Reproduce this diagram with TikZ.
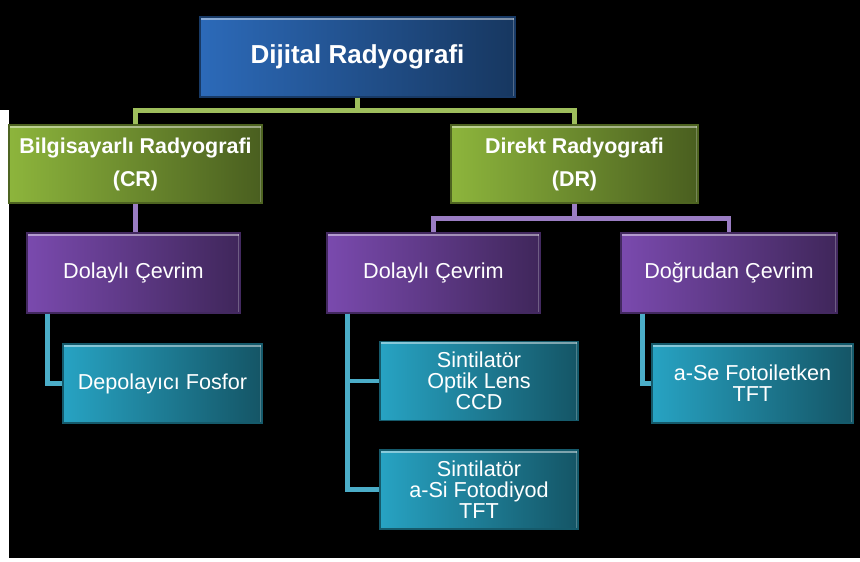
\documentclass[tikz,border=0pt]{standalone}
\usepackage{xcolor}
\usepackage{fontspec}
\setmainfont{Liberation Sans}

\definecolor{topblue}{HTML}{2C6AB9}
\definecolor{crgreen}{HTML}{8DB53C}
\definecolor{cevpurple}{HTML}{7A4AAE}
\definecolor{leafcyan}{HTML}{27A3C3}
\definecolor{greenlink}{HTML}{9EBE5C}
\definecolor{purplelink}{HTML}{9A7DC3}
\definecolor{cyanlink}{HTML}{4BADC8}

\tikzset{
    box/.style={rectangle, align=center, inner sep=2pt, text=white,
        draw=#1!55!black, line width=0.6pt,
        left color=#1, right color=#1!52!black,
        path picture={
            \draw[white, opacity=.45, line width=3pt]
                (path picture bounding box.north west) -- (path picture bounding box.north east);
            \draw[white, opacity=.25, line width=2pt]
                (path picture bounding box.north east) -- (path picture bounding box.south east);
        }},
    rootbox/.style={box=topblue, minimum width=6.3cm, minimum height=1.6cm,
        font=\fontsize{14.8}{18}\selectfont\bfseries},
    typebox/.style={box=crgreen, minimum height=1.56cm,
        font=\fontsize{12.2}{18.8}\selectfont\bfseries},
    convbox/.style={box=cevpurple, minimum height=1.6cm,
        font=\fontsize{12.3}{12}\selectfont},
    leafbox/.style={box=leafcyan, minimum height=1.58cm,
        font=\fontsize{12.3}{11.9}\selectfont},
    link/.style={line width=2.7pt, color=#1}
}

\begin{document}
\begin{tikzpicture}
    \useasboundingbox (0, 0) rectangle (17.2, -11.24);
    \fill[black] (0.18, 0) rectangle (17.2, -11.16);
    \fill[black] (0, 0) rectangle (0.18, -2.2);

    % boxes
    \node[rootbox] (root) at (7.15, -1.14) {Dijital Radyografi};

    \node[typebox, minimum width=5.06cm] (cr) at (2.71, -3.28) {Bilgisayarlı Radyografi\\(CR)};
    \node[typebox, minimum width=4.94cm] (dr) at (11.49, -3.28) {Direkt Radyografi\\(DR)};

    \node[convbox, minimum width=4.26cm] (crind) at (2.67, -5.46) {Dolaylı Çevrim};
    \node[convbox, minimum width=4.26cm] (drind) at (8.67, -5.46) {Dolaylı Çevrim};
    \node[convbox, minimum width=4.32cm] (drdir) at (14.58, -5.46) {Doğrudan Çevrim};

    \node[leafbox, minimum width=3.98cm] (fosfor) at (3.25, -7.67) {Depolayıcı Fosfor};
    \node[leafbox, minimum width=3.96cm] (ccd) at (9.58, -7.62) {Sintilatör\\Optik Lens\\CCD};
    \node[leafbox, minimum width=3.96cm] (diyot) at (9.58, -9.79) {Sintilatör\\a-Si Fotodiyod\\TFT};
    \node[leafbox, minimum width=4.02cm] (iletken) at (15.05, -7.67) {a-Se Fotoiletken\\TFT};

    % connectors
    \draw[link=greenlink] (root.south) -- ++(0, -0.26) coordinate (rootbar) -| (cr.north);
    \draw[link=greenlink] (rootbar) -| (dr.north);

    \draw[link=purplelink] (cr.south) -- (cr.south |- crind.north);
    \draw[link=purplelink] (dr.south) -- ++(0, -0.3) coordinate (drbar) -| (drind.north);
    \draw[link=purplelink] (drbar) -| (drdir.north);

    \draw[link=cyanlink] ([xshift=0.42cm]crind.south west) |- (fosfor.west);
    \draw[link=cyanlink] ([xshift=0.42cm]drind.south west) |- (ccd.west);
    \draw[link=cyanlink] ([xshift=0.42cm]drind.south west) |- (diyot.west);
    \draw[link=cyanlink] ([xshift=0.44cm]drdir.south west) |- (iletken.west);
\end{tikzpicture}
\end{document}
